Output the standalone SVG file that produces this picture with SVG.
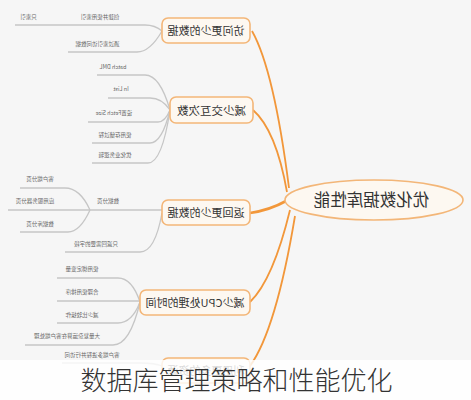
<svg xmlns="http://www.w3.org/2000/svg" width="471" height="400" viewBox="0 0 471 400">
<style>
.bg{fill:#f6f6f6}
.node{fill:#fdf8f1;stroke:#f3b678;stroke-width:1.6}
.nt{font-family:"Noto Sans CJK SC","Noto Sans",sans-serif;fill:#333;text-anchor:middle}
.lab{font-family:"Noto Sans CJK SC","Noto Sans",sans-serif;font-size:5.5px;fill:#666;text-anchor:middle}
.g{fill:none;stroke:#c6c6c6;stroke-width:1.3}
.o{fill:none;stroke:#f2973a;stroke-width:1.8}
</style>
<rect class="bg" x="0" y="0" width="471" height="400"/>
<g id="connectors">
<path class="o" d="M252,31 Q274,70 289,188"/>
<path class="o" d="M253,110 Q276,130 287,192"/>
<path class="o" d="M250,213 Q270,210 286,201" style="stroke-width:2.6"/>
<path class="o" d="M250,302 Q273,280 290,210"/>
<path class="o" d="M250,366 Q276,330 295,216"/>
<path class="g" d="M15,25 H145 Q155,25 162,31"/>
<path class="g" d="M68,52 H137 Q150,52 162,31"/>
<path class="g" d="M97,75 H145 Q160,75 170,110"/>
<path class="g" d="M108,98 H150 Q162,98 170,110"/>
<path class="g" d="M88,122 H158 Q165,122 170,110"/>
<path class="g" d="M92,143 H150 Q162,143 170,110"/>
<path class="g" d="M92,163 H148 Q162,163 170,110"/>
<path class="g" d="M90,210 H162"/>
<path class="g" d="M20,188 H65 Q80,188 90,210"/>
<path class="g" d="M8,210 H90"/>
<path class="g" d="M20,232 H68 Q80,232 90,210"/>
<path class="g" d="M65,252 H140 Q155,252 162,213"/>
<path class="g" d="M57,278 H118 Q132,278 140,302"/>
<path class="g" d="M57,301 H140"/>
<path class="g" d="M57,323 H118 Q132,323 140,302"/>
<path class="g" d="M25,345 H113 Q130,345 140,302"/>
<path class="g" d="M62,363 H140 Q155,363 162,366"/>
</g>
<g id="center">
<ellipse cx="374" cy="200" rx="89" ry="20" class="node"/>
<text class="nt" x="371.5" y="206" font-size="16.5" transform="matrix(-1 0 0 1 743 0)">优化数据库性能</text>
</g>
<g id="n1">
<rect class="node" x="162" y="18" width="88" height="25" rx="6"/>
<text class="nt" x="206" y="34.5" font-size="11" transform="matrix(-1 0 0 1 412 0)">访问更少的数据</text>
<text class="lab" x="100" y="19" transform="matrix(-1 0 0 1 200 0)">创建并使用索引</text>
<text class="lab" x="28.5" y="19" transform="matrix(-1 0 0 1 57 0)">只索引</text>
<text class="lab" x="97.5" y="46" transform="matrix(-1 0 0 1 195 0)">通过索引访问数据</text>
</g>
<g id="n2">
<rect class="node" x="170" y="97" width="83" height="26" rx="6"/>
<text class="nt" x="211.5" y="114.5" font-size="11.5" transform="matrix(-1 0 0 1 423 0)">减少交互次数</text>
<text class="lab" x="113" y="69" transform="matrix(-1 0 0 1 226 0)">batch DML</text>
<text class="lab" x="121" y="91" transform="matrix(-1 0 0 1 242 0)">In List</text>
<text class="lab" x="114" y="115" transform="matrix(-1 0 0 1 228 0)">设置Fetch Size</text>
<text class="lab" x="115" y="137" transform="matrix(-1 0 0 1 230 0)">使用存储过程</text>
<text class="lab" x="115" y="157" transform="matrix(-1 0 0 1 230 0)">优化业务逻辑</text>
</g>
<g id="n3">
<rect class="node" x="162" y="200" width="88" height="25" rx="6"/>
<text class="nt" x="206" y="216.5" font-size="11" transform="matrix(-1 0 0 1 412 0)">返回更少的数据</text>
<text class="lab" x="108" y="203" transform="matrix(-1 0 0 1 216 0)">数据分页</text>
<text class="lab" x="40" y="181" transform="matrix(-1 0 0 1 80 0)">客户端分页</text>
<text class="lab" x="35" y="203" transform="matrix(-1 0 0 1 70 0)">应用服务器分页</text>
<text class="lab" x="40" y="226" transform="matrix(-1 0 0 1 80 0)">数据库分页</text>
<text class="lab" x="96" y="246" transform="matrix(-1 0 0 1 192 0)">只返回需要的字段</text>
</g>
<g id="n4">
<rect class="node" x="140" y="290" width="110" height="25" rx="6"/>
<text class="nt" x="195" y="306.5" font-size="11" transform="matrix(-1 0 0 1 390 0)">减少CPU处理的时间</text>
<text class="lab" x="82" y="271" transform="matrix(-1 0 0 1 164 0)">使用绑定变量</text>
<text class="lab" x="82" y="294" transform="matrix(-1 0 0 1 164 0)">合理使用排序</text>
<text class="lab" x="82" y="317" transform="matrix(-1 0 0 1 164 0)">减少比较操作</text>
<text class="lab" x="67" y="338" transform="matrix(-1 0 0 1 134 0)">大量复杂运算在客户端处理</text>
</g>
<g id="n5">
<rect class="node" x="162" y="358" width="88" height="25" rx="6"/>
<text class="nt" x="206" y="374.5" font-size="11" transform="matrix(-1 0 0 1 412 0)">利用更多的资源</text>
<text class="lab" x="92" y="357" transform="matrix(-1 0 0 1 184 0)">客户端多进程并行访问</text>
</g>
<rect x="0" y="360" width="471" height="40" fill="#ffffff" opacity="0.82"/>
<text x="236.5" y="390" font-family="Noto Sans CJK SC,sans-serif" font-size="26" font-weight="300" fill="#333" text-anchor="middle">数据库管理策略和性能优化</text>
</svg>
